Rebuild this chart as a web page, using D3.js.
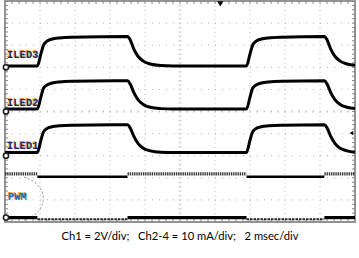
<!DOCTYPE html>
<html>
  <head>
    <meta charset="utf-8">
    <title>ILED / PWM scope capture</title>
    <script src="https://d3js.org/d3.v7.min.js"></script>
    <style>
      body { margin: 0; background: #fff; }
      svg { display: block; }
    </style>
  </head>
  <body>
    <div id="chart"></div>

    <script>
      // Scope settings (10 x 10 divisions)
      var msPerDiv = 2;      // 2 msec/div
      var mAPerDiv = 10;     // Ch2-4 = 10 mA/div
      var voltPerDiv = 2;    // Ch1 = 2V/div

      // LED current traces, [time ms, current mA]
      var iled3 = [[0,0.6],[1.85,0.6],[2.05,6],[2.2,10],[2.4,11.8],[2.7,12.8],[3.1,13.3],[3.8,13.6],
        [7.0,13.9],[7.15,12.5],[7.35,8.5],[7.6,5],[7.9,2.8],[8.3,1.5],[8.9,0.8],[9.6,0.6],
        [13.8,0.6],[14.0,6],[14.15,10],[14.35,11.8],[14.65,12.8],[15.05,13.3],[15.8,13.6],
        [18.25,13.9],[18.4,12.5],[18.6,8.5],[18.85,5],[19.15,2.8],[19.55,1.5],[20,0.9]];
      var iled2 = [[0,1.1],[1.85,1.1],[2.05,6.5],[2.2,10.5],[2.4,12],[2.7,12.9],[3.1,13.4],[3.8,13.7],
        [7.0,13.9],[7.15,12.5],[7.35,8.8],[7.6,5.4],[7.9,3.2],[8.3,1.9],[8.9,1.3],[9.6,1.1],
        [13.8,1.1],[14.0,6.5],[14.15,10.5],[14.35,12],[14.65,12.9],[15.05,13.4],[15.8,13.7],
        [18.25,13.9],[18.4,12.5],[18.6,8.8],[18.85,5.4],[19.15,3.2],[19.55,1.9],[20,1.3]];
      var iled1 = [[0,1.5],[1.85,1.5],[2.05,7],[2.2,10.8],[2.4,12.3],[2.7,13.1],[3.1,13.5],[3.8,13.8],
        [7.0,14.0],[7.15,12.6],[7.35,9],[7.6,5.6],[7.9,3.4],[8.3,2.2],[8.9,1.6],[9.6,1.5],
        [13.8,1.5],[14.0,7],[14.15,10.8],[14.35,12.3],[14.65,13.1],[15.05,13.5],[15.8,13.8],
        [18.25,14.0],[18.4,12.6],[18.6,9],[18.85,5.6],[19.15,3.4],[19.55,2.2],[20,1.6]];

      // PWM envelope: segment edges (ms), state per segment (1 = LEDs on), levels in V
      var pwmEdges = [0, 1.85, 7.0, 13.8, 18.25, 20];
      var pwmState = [0, 1, 0, 1, 0];
      var pwmTopOff = 3.95, pwmTopOn = 3.7, pwmLowOff = 0, pwmLowOn = -0.15;

      var channels = [
        {name: "ILED3", data: iled3, offset: 2,  labelY: 58},
        {name: "ILED2", data: iled2, offset: 0,  labelY: 106},
        {name: "ILED1", data: iled1, offset: -2, labelY: 149}
      ];
      var pwmOffset = -4.8;

      var width = 359, height = 258;
      var gLeft = 5, gRight = 355, gTop = 1, gBottom = 222;

      var svg = d3.select("#chart").append("svg")
        .attr("width", width).attr("height", height);

      var x = d3.scaleLinear().domain([0, 10 * msPerDiv]).range([gLeft, gRight]);
      var yDiv = d3.scaleLinear().domain([-5, 5]).range([gBottom, gTop]);
      var divW = (gRight - gLeft) / 10, divH = (gBottom - gTop) / 10;

      // dotted graticule
      var g = svg.append("g");
      d3.range(1, 10).forEach(function (i) {
        g.append("line")
          .attr("x1", gLeft + i * divW).attr("x2", gLeft + i * divW)
          .attr("y1", gTop).attr("y2", gBottom)
          .attr("stroke", "#bcbcbc").attr("stroke-width", 1)
          .attr("stroke-dasharray", "1," + (divH / 5 - 1));
        g.append("line")
          .attr("y1", gTop + i * divH).attr("y2", gTop + i * divH)
          .attr("x1", gLeft).attr("x2", gRight)
          .attr("stroke", "#b0b0b0").attr("stroke-width", 1)
          .attr("stroke-dasharray", "1," + (divW / 5 - 1));
      });

      // minor ticks on frame and centre lines
      var ticks = svg.append("g").attr("stroke", "#8a8a8a").attr("stroke-width", 1);
      d3.range(1, 50).forEach(function (i) {
        var tx = gLeft + i * divW / 5;
        ticks.append("line").attr("x1", tx).attr("x2", tx).attr("y1", gTop).attr("y2", gTop + 3);
        ticks.append("line").attr("x1", tx).attr("x2", tx).attr("y1", gBottom).attr("y2", gBottom - 3);
        ticks.append("line").attr("x1", tx).attr("x2", tx).attr("y1", yDiv(0) - 1.5).attr("y2", yDiv(0) + 1.5)
          .attr("stroke", "#cfcfcf");
        var ty = gTop + i * divH / 5;
        ticks.append("line").attr("y1", ty).attr("y2", ty).attr("x1", gLeft).attr("x2", gLeft + 3);
        ticks.append("line").attr("y1", ty).attr("y2", ty).attr("x1", gRight).attr("x2", gRight - 3);
        ticks.append("line").attr("y1", ty).attr("y2", ty).attr("x1", x(10) - 1.5).attr("x2", x(10) + 1.5)
          .attr("stroke", "#cfcfcf");
      });

      // frame
      svg.append("rect")
        .attr("x", gLeft).attr("y", gTop)
        .attr("width", gRight - gLeft).attr("height", gBottom - gTop)
        .attr("fill", "none").attr("stroke", "#7a7a7a").attr("stroke-width", 1.6);

      // dashed arc around PWM label
      svg.append("path")
        .attr("d", "M24,177 A30,23 0 0 1 24,220")
        .attr("fill", "none").attr("stroke", "#8c8c8c")
        .attr("stroke-width", 1).attr("stroke-dasharray", "2,2");

      // LED current traces
      var line = d3.line().curve(d3.curveMonotoneX);
      channels.forEach(function (ch) {
        line.x(function (d) { return x(d[0]); })
            .y(function (d) { return yDiv(ch.offset + d[1] / mAPerDiv); });
        svg.append("path")
          .datum(ch.data)
          .attr("d", line)
          .attr("fill", "none")
          .attr("stroke", "#000")
          .attr("stroke-width", 3);
      });

      // PWM envelope segments
      var yPwm = function (v) { return yDiv(pwmOffset + v / voltPerDiv); };
      pwmState.forEach(function (s, i) {
        var x0 = x(pwmEdges[i]), x1 = x(pwmEdges[i + 1]);
        // upper level
        svg.append("line")
          .attr("x1", x0).attr("x2", x1)
          .attr("y1", yPwm(s ? pwmTopOn : pwmTopOff)).attr("y2", yPwm(s ? pwmTopOn : pwmTopOff))
          .attr("stroke", s ? "#000" : "#3c3c3c")
          .attr("stroke-width", s ? 2.6 : 3.2)
          .attr("stroke-dasharray", s ? null : "1.4,0.8");
        // lower level
        svg.append("line")
          .attr("x1", x0).attr("x2", x1)
          .attr("y1", yPwm(s ? pwmLowOn : pwmLowOff)).attr("y2", yPwm(s ? pwmLowOn : pwmLowOff))
          .attr("stroke", s ? "#222" : "#000")
          .attr("stroke-width", s ? 2 : 3.2)
          .attr("stroke-dasharray", s ? "2.5,1" : null);
      });

      // ground markers
      var grounds = channels.map(function (ch) { return yDiv(ch.offset); }).concat([yPwm(0)]);
      svg.selectAll(".gnd").data(grounds).enter().append("circle")
        .attr("class", "gnd")
        .attr("cx", gLeft + 1).attr("cy", function (d) { return d; })
        .attr("r", 2.6)
        .attr("fill", "#fff").attr("stroke", "#222").attr("stroke-width", 1.6);

      // trigger markers
      svg.append("path")
        .attr("d", d3.symbol().type(d3.symbolTriangle).size(16)())
        .attr("transform", "translate(" + x(12.3) + ",3) rotate(180)")
        .attr("fill", "#000");
      svg.append("path")
        .attr("d", d3.symbol().type(d3.symbolTriangle).size(8)())
        .attr("transform", "translate(352," + (yDiv(-1) - 0.5) + ") rotate(-90)")
        .attr("fill", "#000");

      // channel labels
      function label(txt, lx, ly, colour) {
        svg.append("text").attr("x", lx - 0.8).attr("y", ly - 0.6).text(txt)
          .attr("font-family", "Liberation Mono").attr("font-size", 10.5)
          .attr("font-weight", "bold").attr("fill", "#eaa446");
        svg.append("text").attr("x", lx).attr("y", ly).text(txt)
          .attr("font-family", "Liberation Mono").attr("font-size", 10.5)
          .attr("font-weight", "bold").attr("fill", colour);
      }
      channels.forEach(function (ch) { label(ch.name, 7, ch.labelY, "#1b2a66"); });
      label("PWM", 8, 200, "#1f5fc4");

      // caption
      svg.append("text")
        .attr("x", 180).attr("y", 240)
        .attr("text-anchor", "middle")
        .attr("font-family", "Lato, 'Open Sans', sans-serif")
        .attr("font-size", 11.2)
        .attr("fill", "#000")
        .attr("xml:space", "preserve")
        .text("Ch1 = 2V/div;   Ch2-4 = 10 mA/div;   2 msec/div");
    </script>
  </body>
</html>
